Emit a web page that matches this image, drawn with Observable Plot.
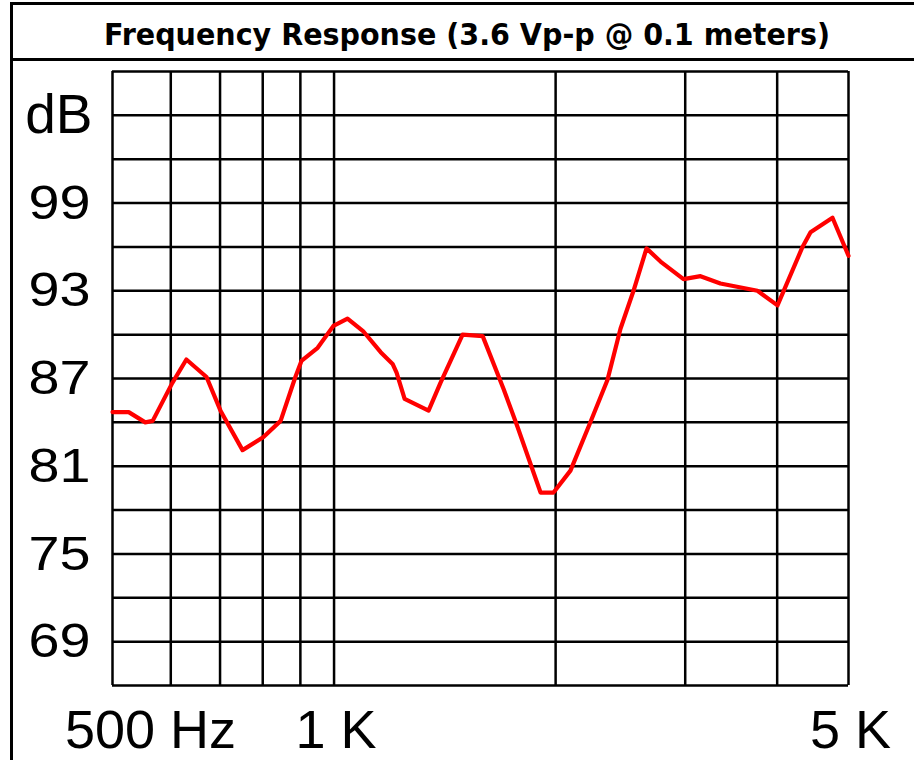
<!DOCTYPE html>
<html><head><meta charset="utf-8">
<script src="https://cdn.jsdelivr.net/npm/d3@7"></script>
<script src="https://cdn.jsdelivr.net/npm/@observablehq/plot@0.6"></script>
<style>
html,body{margin:0;padding:0;background:#fff;overflow:hidden;width:914px;height:760px}
#frame{position:absolute;left:10px;top:2px;width:904px;height:758px;border-left:3px solid #000;border-top:3px solid #000;box-sizing:border-box}
#title{position:relative;height:56px;border-bottom:3px solid #000;box-sizing:border-box}
#title span{position:absolute;left:calc(50% + 3px);top:14px;white-space:nowrap;font:bold 31px/31px "DejaVu Sans",Verdana,sans-serif;color:#000;transform:translateX(-50%)}
#chart svg{display:block}
</style></head>
<body>
<div id="frame">
  <div id="title"><span id="ttl">Frequency Response (3.6 Vp-p @ 0.1 meters)</span></div>
  <div id="chart"></div>
</div>
<script>
// Measured response curve
const freqHz = [500, 526, 554, 567, 603, 630, 671, 701, 751, 802, 846, 886, 903, 950, 998, 1043, 1097, 1157, 1201, 1216, 1247, 1344, 1395, 1495, 1592, 1699, 1775, 1908, 1987, 2095, 2217, 2352, 2450, 2552, 2658, 2777, 2984, 3147, 3349, 3761, 4004, 4330, 4440, 4756, 5000];
const levelDb = [84.7, 84.7, 84.0, 84.1, 86.7, 88.3, 87.1, 84.8, 82.1, 83.0, 84.1, 87.1, 88.2, 89.1, 90.6, 91.1, 90.2, 88.8, 88.0, 87.4, 85.6, 84.8, 86.7, 90.0, 89.9, 86.3, 83.7, 79.2, 79.2, 80.7, 83.7, 86.9, 90.4, 93.0, 95.9, 95.0, 93.8, 94.0, 93.5, 93.0, 92.0, 96.0, 97.0, 98.0, 95.4];

// Grid and tick labels
const freqGrid = [500, 600, 700, 800, 900, 1000, 2000, 3000, 4000, 5000];
const dbGrid = [66, 69, 72, 75, 78, 81, 84, 87, 90, 93, 96, 99, 102, 105, 108];
const yTickValues = [69, 75, 81, 87, 93, 99];
const yUnitLabel = [{v: 105, t: "dB"}];
const xTickValues = [1000, 5000];
const xTickLabels = ["1 K", "5 K"];
const xStartLabel = [{v: 500, t: "500 Hz"}];

const rows = freqHz.map((f, i) => ({f, db: levelDb[i]}));
const font = "Liberation Sans, Arial, Helvetica, sans-serif";

const svg = Plot.plot({
  width: 901, height: 699,
  marginLeft: 99, marginRight: 66, marginTop: 10, marginBottom: 75,
  x: {type: "log", domain: [500, 5000], axis: null},
  y: {domain: [66, 108], axis: null},
  style: {background: "transparent", overflow: "visible"},
  marks: [
    Plot.ruleY(dbGrid, {stroke: "#000", strokeWidth: 2.5}),
    Plot.ruleX(freqGrid, {stroke: "#000", strokeWidth: 2.5}),
    Plot.line(rows, {x: "f", y: "db", stroke: "#ff0000", strokeWidth: 4.2}),
    Plot.text(yTickValues, {y: d => d, text: d => String(d), frameAnchor: "left", textAnchor: "end", dx: -22, fontSize: 49, fontFamily: font, fill: "#000"}),
    Plot.text(yUnitLabel, {y: "v", text: "t", frameAnchor: "left", textAnchor: "end", dx: -20, fontSize: 55, fontFamily: font, fill: "#000"}),
    Plot.text(xTickValues, {x: d => d, text: (d, i) => xTickLabels[i], frameAnchor: "bottom", lineAnchor: "bottom", dy: 62, dx: 2, fontSize: 54, fontFamily: font, fill: "#000"}),
    Plot.text(xStartLabel, {x: "v", text: "t", frameAnchor: "bottom", lineAnchor: "bottom", dy: 62, dx: 38, fontSize: 54, fontFamily: font, fill: "#000"})
  ]
});
document.getElementById("chart").appendChild(svg);

// widen the numeric y labels to match the reference glyph proportions
const yLabelSet = new Set(yTickValues.map(String));
svg.querySelectorAll("text").forEach(t => {
  if (yLabelSet.has(t.textContent)) {
    t.setAttribute("textLength", 62);
    t.setAttribute("lengthAdjust", "spacingAndGlyphs");
  }
});

// fit title width
const ttl = document.getElementById("ttl");
const w = ttl.getBoundingClientRect().width;
ttl.style.transform = `translateX(-50%) scaleX(${726 / w})`;
</script>
</body></html>
